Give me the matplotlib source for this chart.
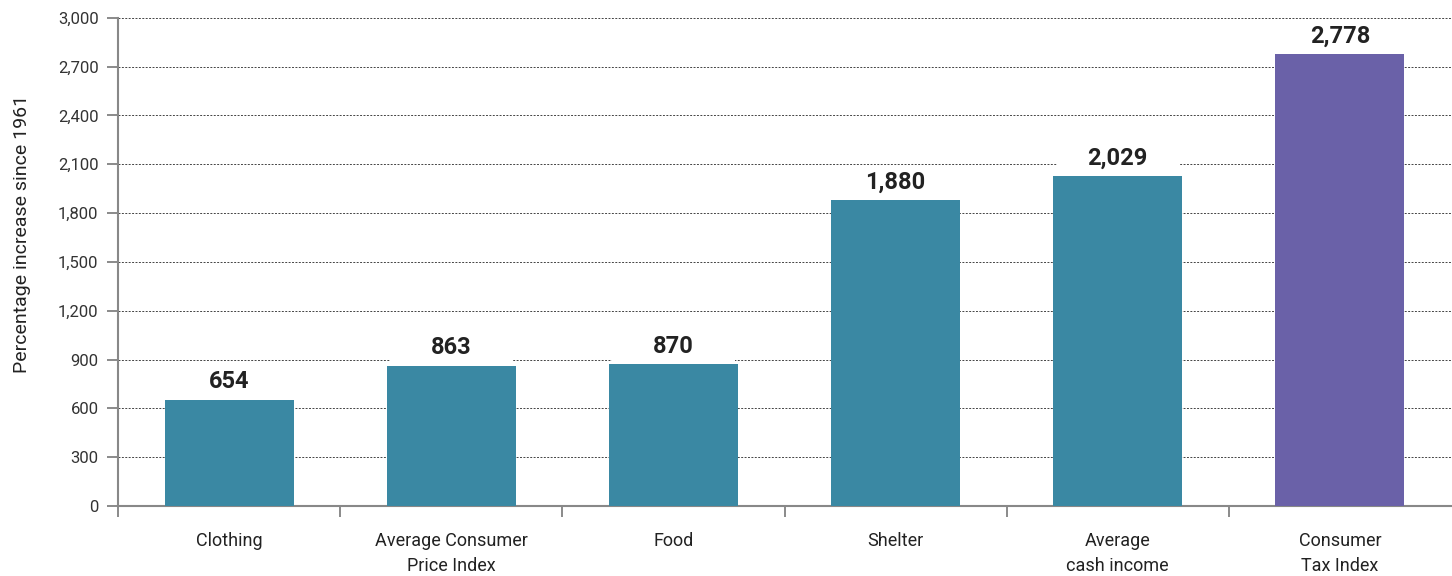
import numpy as np
import matplotlib
matplotlib.use("Agg")
import matplotlib.pyplot as plt

plt.rcParams['font.family'] = ['Roboto', 'DejaVu Sans']

categories = ["Clothing", "Average Consumer\nPrice Index", "Food", "Shelter",
              "Average\ncash income", "Consumer\nTax Index"]
values = [654, 863, 870, 1880, 2029, 2778]
colors = ["#3a88a3"] * 5 + ["#6a61a8"]
yticks = list(range(0, 3001, 300))

fig = plt.figure(figsize=(14.52, 5.76), dpi=100)
ax = fig.add_axes([0.0813, 0.1215, 0.918, 0.8475])

x = np.arange(len(categories))
# white label backing that breaks the gridlines above each bar
ax.bar(x, [185] * len(values), bottom=values, width=0.55, color="white", zorder=2)
bars = ax.bar(x, values, width=0.58, color=colors, zorder=3)

for xi, v in zip(x, values):
    ax.text(xi, v + 40, f"{v:,}", ha="center", va="bottom", fontsize=17,
            fontweight="bold", color="#222222", zorder=4)

ax.set_xlim(-0.5, len(categories) - 0.5)
ax.set_ylim(0, 3000)
ax.set_yticks(yticks)
ax.set_yticklabels([f"{t:,}" for t in yticks], fontsize=12, color="#333333")
ax.set_xticks(x)
ax.set_xticklabels(categories, fontsize=13, color="#222222", linespacing=1.45)
ax.tick_params(axis="x", length=0, pad=19)
ax.set_xticks(np.arange(-0.5, len(categories) - 0.5, 1), minor=True)
ax.tick_params(axis="x", which="minor", length=8, color="#777777", width=1.2)
ax.tick_params(axis="y", length=8, color="#777777", width=1.2, pad=6)

ax.grid(axis="y", linestyle=(0, (2, 1.5)), color="#444444", linewidth=0.7, zorder=0)
ax.set_axisbelow(True)

for s in ["top", "right"]:
    ax.spines[s].set_visible(False)
for s in ["left", "bottom"]:
    ax.spines[s].set_color("#888888")
    ax.spines[s].set_linewidth(1.5)

ax.set_ylabel("Percentage increase since 1961", fontsize=14, color="#222222")
ax.yaxis.set_label_coords(-0.065, 0.557)

plt.savefig("out.png", dpi=100)
